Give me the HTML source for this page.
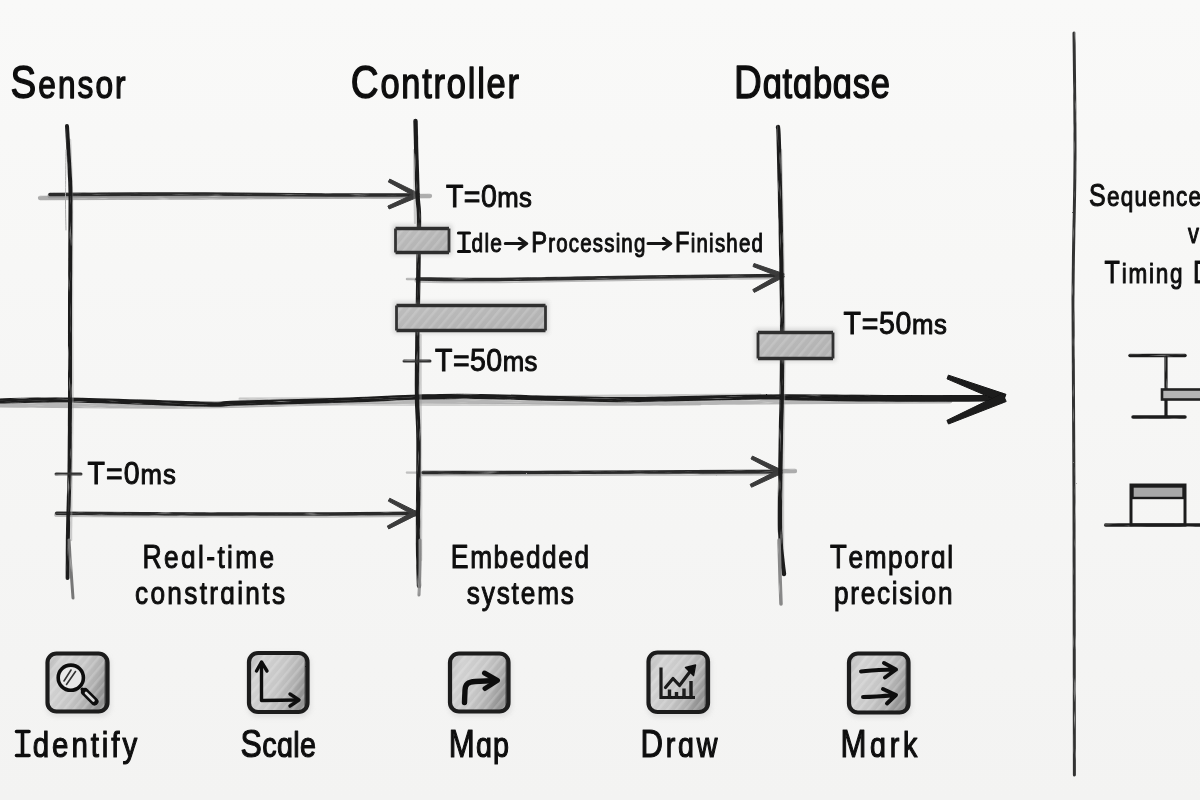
<!DOCTYPE html>
<html><head><meta charset="utf-8"><style>
html,body{margin:0;padding:0;background:#f6f6f5;}
svg{display:block;}
text{font-family:"Liberation Sans",sans-serif;}
</style></head><body>
<svg width="1200" height="800" viewBox="0 0 1200 800">
<defs>
<filter id="pen" filterUnits="userSpaceOnUse" x="0" y="0" width="1200" height="800">
<feTurbulence type="fractalNoise" baseFrequency="0.9" numOctaves="2" seed="3" result="n"/>
<feDisplacementMap in="SourceGraphic" in2="n" scale="1.3" xChannelSelector="R" yChannelSelector="G"/>
</filter>
<pattern id="hp" width="6" height="6" patternUnits="userSpaceOnUse" patternTransform="rotate(40)">
<rect width="6" height="6" fill="#bcbcbc"/><rect width="2" height="6" fill="#a9a9a9"/>
</pattern>
<linearGradient id="hatch" x1="0" y1="0" x2="1" y2="1"><stop offset="0" stop-color="#bdbdbd"/><stop offset="1" stop-color="#b0b0b0"/></linearGradient>
<linearGradient id="ig" x1="0" y1="0" x2="1" y2="0.4"><stop offset="0" stop-color="#b4b4b4"/><stop offset="0.25" stop-color="#d2d2d2"/><stop offset="0.6" stop-color="#c6c6c6"/><stop offset="0.85" stop-color="#afafaf"/><stop offset="1" stop-color="#939393"/></linearGradient>
<pattern id="hp2" width="7" height="7" patternUnits="userSpaceOnUse" patternTransform="rotate(40)">
<rect width="2.5" height="7" fill="#fff"/>
</pattern>
<filter id="soft" x="-20%" y="-20%" width="140%" height="140%"><feGaussianBlur stdDeviation="2"/></filter>
<filter id="gblur" filterUnits="userSpaceOnUse" x="0" y="0" width="1200" height="800"><feGaussianBlur stdDeviation="0.35"/></filter>
<linearGradient id="bg" x1="0" y1="0" x2="0" y2="1"><stop offset="0" stop-color="#f9f9f8"/><stop offset="1" stop-color="#f3f3f2"/></linearGradient>
<filter id="pen2h" filterUnits="userSpaceOnUse" x="0" y="0" width="1200" height="800">
<feTurbulence type="fractalNoise" baseFrequency="0.9" numOctaves="2" seed="3" result="n"/>
<feDisplacementMap in="SourceGraphic" in2="n" scale="1.3" xChannelSelector="R" yChannelSelector="G" result="d"/>
<feTurbulence type="fractalNoise" baseFrequency="0.04 0.7" numOctaves="2" seed="11" result="g"/>
<feColorMatrix in="g" type="matrix" values="0 0 0 0 0  0 0 0 0 0  0 0 0 0 0  0 0 0 1.8 0.25" result="m"/>
<feComposite in="d" in2="m" operator="in"/>
</filter>
<filter id="pen2v" filterUnits="userSpaceOnUse" x="0" y="0" width="1200" height="800">
<feTurbulence type="fractalNoise" baseFrequency="0.9" numOctaves="2" seed="4" result="n"/>
<feDisplacementMap in="SourceGraphic" in2="n" scale="1.3" xChannelSelector="R" yChannelSelector="G" result="d"/>
<feTurbulence type="fractalNoise" baseFrequency="0.7 0.04" numOctaves="2" seed="12" result="g"/>
<feColorMatrix in="g" type="matrix" values="0 0 0 0 0  0 0 0 0 0  0 0 0 0 0  0 0 0 1.8 0.25" result="m"/>
<feComposite in="d" in2="m" operator="in"/>
</filter>
<filter id="tblur" filterUnits="userSpaceOnUse" x="0" y="0" width="1200" height="800"><feGaussianBlur stdDeviation="0.3"/></filter>
<filter id="soft1" x="-5%" y="-5%" width="110%" height="110%"><feGaussianBlur stdDeviation="0.7"/></filter>
</defs>
<rect width="1200" height="800" fill="url(#bg)"/>
<g filter="url(#gblur)">
<path d="M40,198 C66.7,197.9 135.0,197.8 200,197.5 C265.0,197.2 391.7,196.2 430,196" fill="none" stroke="#9a9a9a" stroke-width="4.32" stroke-linecap="round" stroke-linejoin="round" opacity="0.8" filter="url(#pen2h)"/>
<path d="M50,195.7 C75.0,195.6 153.3,195.1 200,195.2 C246.7,195.3 293.8,196.0 330,196.2 C366.2,196.4 402.5,196.2 417,196.2" fill="none" stroke="#8a8a8a" stroke-width="5.1" stroke-linecap="round" stroke-linejoin="round" opacity="0.55" filter="url(#pen2h)"/>
<path d="M50,194.5 C75.0,194.4 153.3,193.9 200,194 C246.7,194.1 293.8,194.8 330,195 C366.2,195.2 402.5,195.0 417,195" fill="none" stroke="#2a2a2a" stroke-width="3.6" stroke-linecap="round" stroke-linejoin="round" opacity="1" filter="url(#pen2h)"/>
<path d="M388.2642332037417,181.92079105484365 L417.2743268442946,197.73216851282996 L419.3896563835373,193.64739423015442 L389.7357667962583,179.07920894515635 Z" fill="#3a3a3a" stroke="#3a3a3a" stroke-width="1" stroke-linejoin="round" opacity="1" filter="url(#pen)"/>
<path d="M389.1426583921361,208.96526113407032 L419.29750375188655,196.5038206375985 L417.44986087449524,192.29119487714632 L387.8573416078639,206.03473886592968 Z" fill="#3a3a3a" stroke="#3a3a3a" stroke-width="1" stroke-linejoin="round" opacity="1" filter="url(#pen)"/>
<path d="M407,279 L418,279" fill="none" stroke="#999" stroke-width="2.5" stroke-linecap="round" stroke-linejoin="round" opacity="0.7" filter="url(#pen2h)"/>
<path d="M417,280.2 C430.8,280.3 461.2,281.0 500,280.7 C538.8,280.4 603.0,278.9 650,278.2 C697.0,277.5 760.0,276.9 782,276.7" fill="none" stroke="#8a8a8a" stroke-width="5.1" stroke-linecap="round" stroke-linejoin="round" opacity="0.55" filter="url(#pen2h)"/>
<path d="M417,279 C430.8,279.1 461.2,279.8 500,279.5 C538.8,279.2 603.0,277.7 650,277 C697.0,276.3 760.0,275.8 782,275.5" fill="none" stroke="#2a2a2a" stroke-width="3.6" stroke-linecap="round" stroke-linejoin="round" opacity="1" filter="url(#pen2h)"/>
<path d="M752.9468714258762,266.5013489869074 L782.6123923499227,278.1767472069204 L784.2026370005286,273.8603688695617 L754.0531285741238,263.4986510130926 Z" fill="#3a3a3a" stroke="#3a3a3a" stroke-width="1" stroke-linejoin="round" opacity="1" filter="url(#pen)"/>
<path d="M754.264435115056,292.4055742438126 L784.4166013314673,276.8038550551156 L782.2188503756813,272.76282910415443 L752.735564884944,289.5944257561874 Z" fill="#3a3a3a" stroke="#3a3a3a" stroke-width="1" stroke-linejoin="round" opacity="1" filter="url(#pen)"/>
<path d="M407,472.5 L424,472.5" fill="none" stroke="#aaa" stroke-width="2.5" stroke-linecap="round" stroke-linejoin="round" opacity="0.7" filter="url(#pen2h)"/>
<path d="M700,472 C715.8,471.8 779.2,471.2 795,471" fill="none" stroke="#9a9a9a" stroke-width="4.32" stroke-linecap="round" stroke-linejoin="round" opacity="0.8" filter="url(#pen2h)"/>
<path d="M423,473.7 C435.8,473.7 462.2,473.8 500,473.7 C537.8,473.6 603.3,473.3 650,473.2 C696.7,473.1 758.3,472.9 780,472.9" fill="none" stroke="#8a8a8a" stroke-width="5.1" stroke-linecap="round" stroke-linejoin="round" opacity="0.55" filter="url(#pen2h)"/>
<path d="M423,472.5 C435.8,472.5 462.2,472.6 500,472.5 C537.8,472.4 603.3,472.1 650,472 C696.7,471.9 758.3,471.8 780,471.7" fill="none" stroke="#2a2a2a" stroke-width="3.6" stroke-linecap="round" stroke-linejoin="round" opacity="1" filter="url(#pen2h)"/>
<path d="M750.9824376585663,458.93007142694205 L780.3091960969471,474.4284423713234 L782.3721878285692,470.316987018865 L752.4175623414338,456.06992857305795 Z" fill="#3a3a3a" stroke="#3a3a3a" stroke-width="1" stroke-linejoin="round" opacity="1" filter="url(#pen)"/>
<path d="M751.4957364912811,487.2408159961285 L782.3508862025872,473.1189200338585 L780.3506437901538,468.97657404498915 L750.1042635087188,484.3591840038715 Z" fill="#3a3a3a" stroke="#3a3a3a" stroke-width="1" stroke-linejoin="round" opacity="1" filter="url(#pen)"/>
<path d="M56.7,514.5 C80.6,514.6 154.4,515.1 200,515.2 C245.6,515.3 294.2,515.3 330,515.2 C365.8,515.1 400.8,514.6 415,514.5" fill="none" stroke="#8a8a8a" stroke-width="5.1" stroke-linecap="round" stroke-linejoin="round" opacity="0.55" filter="url(#pen2h)"/>
<path d="M56.7,513.3 C80.6,513.4 154.4,513.9 200,514 C245.6,514.1 294.2,514.1 330,514 C365.8,513.9 400.8,513.4 415,513.3" fill="none" stroke="#2a2a2a" stroke-width="3.6" stroke-linecap="round" stroke-linejoin="round" opacity="1" filter="url(#pen2h)"/>
<path d="M388.25840395728,501.1177571404941 L415.26310300780324,516.0332721795103 L417.39519163062323,511.9572204005897 L389.74159604272,498.28224285950586 Z" fill="#3a3a3a" stroke="#3a3a3a" stroke-width="1" stroke-linejoin="round" opacity="1" filter="url(#pen)"/>
<path d="M388.7447619313536,528.9160966300385 L417.39818586698186,514.6374245950364 L415.2569953143403,510.5661467836756 L387.2552380686464,526.0839033699615 Z" fill="#3a3a3a" stroke="#3a3a3a" stroke-width="1" stroke-linejoin="round" opacity="1" filter="url(#pen)"/>
<path d="M0,405 C33.3,405.2 130.3,406.7 200,406 C269.7,405.3 348.0,401.5 418,401 C488.0,400.5 563.0,402.8 620,403 C677.0,403.2 705.0,402.3 760,402 C815.0,401.7 918.3,401.2 950,401" fill="none" stroke="#8a8a8a" stroke-width="5" stroke-linecap="round" stroke-linejoin="round" opacity="0.6" filter="url(#pen2h)"/>
<path d="M240,399 C266.7,398.9 336.7,399.0 400,398.5 C463.3,398.0 560.0,396.6 620,396 C680.0,395.4 736.7,395.2 760,395" fill="none" stroke="#999" stroke-width="3" stroke-linecap="round" stroke-linejoin="round" opacity="0.5" filter="url(#pen2h)"/>
<path d="M300,404 C333.3,404.1 433.3,404.5 500,404.5 C566.7,404.5 666.7,404.1 700,404" fill="none" stroke="#aaa" stroke-width="3" stroke-linecap="round" stroke-linejoin="round" opacity="0.5" filter="url(#pen2h)"/>
<path d="M0,401 C11.7,400.8 36.7,399.5 70,400 C103.3,400.5 171.7,403.5 200,404 C228.3,404.5 215.0,403.7 240,403 C265.0,402.3 320.3,401.0 350,400 C379.7,399.0 396.3,397.6 418,397 C439.7,396.4 446.3,396.1 480,396.5 C513.7,396.9 573.3,399.5 620,399.6 C666.7,399.7 713.3,397.4 760,397 C806.7,396.6 860.0,397.3 900,397.5 C940.0,397.7 983.3,397.9 1000,398" fill="none" stroke="#1a1a1a" stroke-width="5.2" stroke-linecap="round" stroke-linejoin="round" opacity="1" filter="url(#pen2h)"/>
<path d="M780,398 C860,396 940,394.5 1000,395 L1000,401.5 C940,402 860,402 780,400 Z" fill="#1a1a1a" filter="url(#pen)"/>
<path d="M946.9899781171829,378.8697242914186 L1002.8047439822253,402.7393960678047 L1005.9998424549026,394.3256367564211 L948.4100218828172,375.1302757085814 Z" fill="#1a1a1a" stroke="#1a1a1a" stroke-width="1" stroke-linejoin="round" opacity="1" filter="url(#pen)"/>
<path d="M948.5018114753474,424.0322386192855 L1006.1782547839957,401.5211782868819 L1002.5701031449325,393.27610450009706 L946.8981885246527,420.36776138071446 Z" fill="#1a1a1a" stroke="#1a1a1a" stroke-width="1" stroke-linejoin="round" opacity="1" filter="url(#pen)"/>
<path d="M70,140 C70.3,150.0 71.7,173.3 72,200 C72.3,226.7 71.9,266.7 72,300 C72.1,333.3 72.6,371.7 72.5,400 C72.4,428.3 71.8,446.7 71.5,470 C71.2,493.3 71.1,528.3 71,540" fill="none" stroke="#999" stroke-width="2.5" stroke-linecap="round" stroke-linejoin="round" opacity="0.45" filter="url(#pen2v)"/>
<path d="M67,126 C67.4,133.3 68.9,157.7 69.5,170 C70.1,182.3 70.4,178.3 70.5,200 C70.6,221.7 70.1,266.7 70,300 C69.9,333.3 70.1,371.7 70,400 C69.9,428.3 69.8,448.3 69.5,470 C69.2,491.7 68.3,512.0 68,530 C67.7,548.0 67.6,570.0 67.5,578" fill="none" stroke="#1e1e1e" stroke-width="4.0" stroke-linecap="round" stroke-linejoin="round" opacity="1" filter="url(#pen2v)"/>
<path d="M69,540 C69.3,545.0 70.3,560.3 71,570 C71.7,579.7 72.7,593.3 73,598" fill="none" stroke="#777" stroke-width="3" stroke-linecap="round" stroke-linejoin="round" opacity="1" filter="url(#pen2v)"/>
<path d="M66,150 C65.9,158.3 65.5,186.7 65.5,200 C65.5,213.3 65.9,225.0 66,230" fill="none" stroke="#aaa" stroke-width="1" stroke-linecap="round" stroke-linejoin="round" opacity="1" filter="url(#pen2v)"/>
<path d="M414,150 C414.2,162.2 414.8,210.8 415,223" fill="none" stroke="#999" stroke-width="2.2" stroke-linecap="round" stroke-linejoin="round" opacity="0.45" filter="url(#pen2v)"/>
<path d="M420.5,335 C420.5,345.3 420.4,372.8 420.5,397 C420.6,421.2 420.9,452.8 421,480 C421.1,507.2 421.0,546.7 421,560" fill="none" stroke="#999" stroke-width="2.5" stroke-linecap="round" stroke-linejoin="round" opacity="0.45" filter="url(#pen2v)"/>
<path d="M415.5,121 C415.8,133.2 416.9,177.0 417.5,194 C418.1,211.0 419.0,200.3 419,223 C419.0,245.7 417.8,301.0 417.5,330 C417.2,359.0 416.8,378.7 417,397 C417.2,415.3 418.3,416.2 418.5,440 C418.7,463.8 417.9,515.7 418,540 C418.1,564.3 418.8,578.3 419,586" fill="none" stroke="#1e1e1e" stroke-width="4.4" stroke-linecap="round" stroke-linejoin="round" opacity="1" filter="url(#pen2v)"/>
<path d="M420,540 C420.0,545.0 420.2,560.8 420,570 C419.8,579.2 419.2,590.8 419,595" fill="none" stroke="#888" stroke-width="3" stroke-linecap="round" stroke-linejoin="round" opacity="1" filter="url(#pen2v)"/>
<path d="M781,150 C781.5,175.0 783.5,258.8 784,300 C784.5,341.2 784.2,367.0 784,397 C783.8,427.0 783.2,452.8 783,480 C782.8,507.2 783.0,546.7 783,560" fill="none" stroke="#999" stroke-width="2.5" stroke-linecap="round" stroke-linejoin="round" opacity="0.45" filter="url(#pen2v)"/>
<path d="M778,127 C778.2,130.8 778.3,121.2 779,150 C779.7,178.8 781.5,258.8 782,300 C782.5,341.2 781.9,375.3 781.7,397 C781.5,418.7 781.3,407.8 781,430 C780.7,452.2 779.5,506.0 780,530 C780.5,554.0 783.3,566.7 784,574" fill="none" stroke="#1e1e1e" stroke-width="4.4" stroke-linecap="round" stroke-linejoin="round" opacity="1" filter="url(#pen2v)"/>
<path d="M779,540 C779.2,545.8 779.7,564.3 780,575 C780.3,585.7 780.8,599.2 781,604" fill="none" stroke="#888" stroke-width="3.5" stroke-linecap="round" stroke-linejoin="round" opacity="1" filter="url(#pen2v)"/>
<path d="M1074,33 C1074.2,54.2 1075.2,115.5 1075,160 C1074.8,204.5 1073.2,243.3 1073,300 C1072.8,356.7 1073.8,420.8 1074,500 C1074.2,579.2 1074.3,729.2 1074.4,775" fill="none" stroke="#333" stroke-width="3" stroke-linecap="round" stroke-linejoin="round" opacity="1" filter="url(#pen2v)"/>
<path d="M404,361 L430,361" fill="none" stroke="#333" stroke-width="3" stroke-linecap="round" stroke-linejoin="round" opacity="1" filter="url(#pen2h)"/>
<path d="M56,474 L81,474" fill="none" stroke="#333" stroke-width="3" stroke-linecap="round" stroke-linejoin="round" opacity="1" filter="url(#pen2h)"/>
<rect x="394.5" y="226.5" width="55.5" height="27.0" fill="none" stroke="#999" stroke-width="3" opacity="0.45" filter="url(#soft)"/>
<rect x="395.5" y="228.5" width="53.5" height="24.0" fill="url(#hatch)"/>
<rect x="395.5" y="228.5" width="53.5" height="24.0" fill="url(#hp2)" opacity="0.15" filter="url(#soft1)"/>
<path d="M395.5,228.5 L449,228.5 M395.5,252.5 L449,252.5" stroke="#2e2e2e" stroke-width="3.4" filter="url(#pen)"/>
<path d="M395.5,228.5 L395.5,252.5 M449,228.5 L449,252.5" stroke="#333" stroke-width="2.8" filter="url(#pen)"/>
<rect x="395.5" y="303.5" width="151.0" height="28.0" fill="none" stroke="#999" stroke-width="3" opacity="0.45" filter="url(#soft)"/>
<rect x="396.5" y="305.5" width="149.0" height="25.0" fill="url(#hatch)"/>
<rect x="396.5" y="305.5" width="149.0" height="25.0" fill="url(#hp2)" opacity="0.15" filter="url(#soft1)"/>
<path d="M396.5,305.5 L545.5,305.5 M396.5,330.5 L545.5,330.5" stroke="#2e2e2e" stroke-width="3.4" filter="url(#pen)"/>
<path d="M396.5,305.5 L396.5,330.5 M545.5,305.5 L545.5,330.5" stroke="#333" stroke-width="2.8" filter="url(#pen)"/>
<rect x="757" y="330.5" width="77" height="29.0" fill="none" stroke="#999" stroke-width="3" opacity="0.45" filter="url(#soft)"/>
<rect x="758" y="332.5" width="75" height="26.0" fill="url(#hatch)"/>
<rect x="758" y="332.5" width="75" height="26.0" fill="url(#hp2)" opacity="0.15" filter="url(#soft1)"/>
<path d="M758,332.5 L833,332.5 M758,358.5 L833,358.5" stroke="#2e2e2e" stroke-width="3.4" filter="url(#pen)"/>
<path d="M758,332.5 L758,358.5 M833,332.5 L833,358.5" stroke="#333" stroke-width="2.8" filter="url(#pen)"/>
<path d="M458.5,233 L469.5,233 M464,233 L464,251.5 M458.5,251.5 L469.5,251.5" stroke="#111" stroke-width="3.2" stroke-linecap="round" fill="none"/>
<path d="M505.3,243.6 L526.7,243.6 M519.3000000000001,238.3 L526.7,243.6 L519.3000000000001,249" stroke="#151515" stroke-width="3" fill="none" stroke-linecap="round" stroke-linejoin="round"/>
<path d="M648,243.6 L670.8,243.6 M663.4,238.3 L670.8,243.6 L663.4,249" stroke="#151515" stroke-width="3" fill="none" stroke-linecap="round" stroke-linejoin="round"/>
<path d="M16.5,731.5 L29,731.5 M22.5,731.5 L22.5,755.5 M16.5,755.5 L29,755.5" stroke="#111" stroke-width="3.6" stroke-linecap="round" fill="none"/>
<rect x="46" y="654" width="65" height="63" rx="10" fill="#cfcfcf" opacity="0.5" filter="url(#soft)"/>
<rect x="47.5" y="653.5" width="60" height="58" rx="9" fill="url(#ig)"/>
<rect x="47.5" y="653.5" width="60" height="58" rx="9" fill="url(#hp2)" opacity="0.18" filter="url(#soft1)"/>
<path d="M106,659 L105.5,706" stroke="#555" stroke-width="3" opacity="0.7" filter="url(#pen)"/>
<rect x="47.5" y="653.5" width="60" height="58" rx="9" fill="none" stroke="#1c1c1c" stroke-width="4.2" filter="url(#pen)"/>
<rect x="247.5" y="653.5" width="63.5" height="64.0" rx="10" fill="#cfcfcf" opacity="0.5" filter="url(#soft)"/>
<rect x="249.0" y="653.0" width="58.5" height="59.0" rx="9" fill="url(#ig)"/>
<rect x="249.0" y="653.0" width="58.5" height="59.0" rx="9" fill="url(#hp2)" opacity="0.18" filter="url(#soft1)"/>
<path d="M306,658.5 L305.5,706.5" stroke="#555" stroke-width="3" opacity="0.7" filter="url(#pen)"/>
<rect x="249.0" y="653.0" width="58.5" height="59.0" rx="9" fill="none" stroke="#1c1c1c" stroke-width="4.2" filter="url(#pen)"/>
<rect x="448.5" y="654" width="63.5" height="63" rx="10" fill="#cfcfcf" opacity="0.5" filter="url(#soft)"/>
<rect x="450.0" y="653.5" width="58.5" height="58" rx="9" fill="url(#ig)"/>
<rect x="450.0" y="653.5" width="58.5" height="58" rx="9" fill="url(#hp2)" opacity="0.18" filter="url(#soft1)"/>
<path d="M507,659 L506.5,706" stroke="#555" stroke-width="3" opacity="0.7" filter="url(#pen)"/>
<rect x="450.0" y="653.5" width="58.5" height="58" rx="9" fill="none" stroke="#1c1c1c" stroke-width="4.2" filter="url(#pen)"/>
<rect x="647" y="653" width="64.5" height="64.5" rx="10" fill="#cfcfcf" opacity="0.5" filter="url(#soft)"/>
<rect x="648.5" y="652.5" width="59.5" height="59.5" rx="9" fill="url(#ig)"/>
<rect x="648.5" y="652.5" width="59.5" height="59.5" rx="9" fill="url(#hp2)" opacity="0.18" filter="url(#soft1)"/>
<path d="M706.5,658 L706.0,706.5" stroke="#555" stroke-width="3" opacity="0.7" filter="url(#pen)"/>
<rect x="648.5" y="652.5" width="59.5" height="59.5" rx="9" fill="none" stroke="#1c1c1c" stroke-width="4.2" filter="url(#pen)"/>
<rect x="847.5" y="654" width="64.5" height="64" rx="10" fill="#cfcfcf" opacity="0.5" filter="url(#soft)"/>
<rect x="849.0" y="653.5" width="59.5" height="59" rx="9" fill="url(#ig)"/>
<rect x="849.0" y="653.5" width="59.5" height="59" rx="9" fill="url(#hp2)" opacity="0.18" filter="url(#soft1)"/>
<path d="M907,659 L906.5,707" stroke="#555" stroke-width="3" opacity="0.7" filter="url(#pen)"/>
<rect x="849.0" y="653.5" width="59.5" height="59" rx="9" fill="none" stroke="#1c1c1c" stroke-width="4.2" filter="url(#pen)"/>
<circle cx="70.8" cy="677.7" r="12.6" fill="#e8e8e8" stroke="#111" stroke-width="3.6"/>
<path d="M64,681 L71,670 M66.5,684.5 L75.5,671.5" stroke="#333" stroke-width="1.6" fill="none" stroke-linecap="round"/>
<path d="M82.5,689.5 L84.5,691.5" stroke="#111" stroke-width="4" stroke-linecap="round"/>
<path d="M85,692 L94.5,701.5" stroke="#111" stroke-width="8" stroke-linecap="round"/>
<path d="M86,693 L93.5,700.5" stroke="#d8d8d8" stroke-width="2.6" stroke-linecap="round"/>
<path d="M261.5,663 L261.5,700.5 L299,700" stroke="#111" stroke-width="3.4" fill="none" stroke-linejoin="round"/>
<path d="M256.5,671 L261.5,662 L267,671 M290,694 L299,700 L290,706" stroke="#111" stroke-width="3.4" fill="none" stroke-linecap="round" stroke-linejoin="round"/>
<path d="M464.5,702.5 L465,690 C465.2,684.5 468,681.8 475,681.5 L496,680.5" stroke="#111" stroke-width="5.4" fill="none" stroke-linecap="round" stroke-linejoin="round"/>
<path d="M484.5,673 L497.5,680.5 L485,688.5" stroke="#111" stroke-width="5" fill="none" stroke-linecap="round" stroke-linejoin="round"/>
<path d="M661,667.5 L661,697.5 L695,697.5" stroke="#1a1a1a" stroke-width="3.2" fill="none"/>
<path d="M669.5,698 L669.5,689.5 M676.5,698 L676.5,692 M684,698 L684,688.5 M691,698 L691,681" stroke="#1a1a1a" stroke-width="3.4"/>
<path d="M665.5,687.5 L673,678.5 L679.5,685.5 L692,669" stroke="#1a1a1a" stroke-width="3.2" fill="none" stroke-linejoin="round" stroke-linecap="round"/>
<path d="M685.5,667.5 L695.5,665 L693.5,675.5 Z" fill="#111" stroke="#111" stroke-width="1.5" stroke-linejoin="round"/>
<path d="M861,671.5 C872,670 884,670 896,669.5 M884,663 L896,669.5 L885,677.5" stroke="#111" stroke-width="4" fill="none" stroke-linecap="round" stroke-linejoin="round"/>
<path d="M863,697 C874,697 885,696 896,695 M883,689 L896,695 L887,703.5" stroke="#111" stroke-width="4" fill="none" stroke-linecap="round" stroke-linejoin="round"/>
<path d="M1130,355.6 L1185,355.6" fill="none" stroke="#1e1e1e" stroke-width="3.5" stroke-linecap="round" stroke-linejoin="round" opacity="1" filter="url(#pen2h)"/>
<path d="M1166,357 L1166,416" fill="none" stroke="#1e1e1e" stroke-width="3.2" stroke-linecap="round" stroke-linejoin="round" opacity="1" filter="url(#pen2v)"/>
<path d="M1133,417 L1185,417" fill="none" stroke="#1e1e1e" stroke-width="3.5" stroke-linecap="round" stroke-linejoin="round" opacity="1" filter="url(#pen2h)"/>
<rect x="1162" y="389.5" width="50" height="10" fill="#b5b5b5" stroke="#222" stroke-width="2.6" filter="url(#pen)"/>
<path d="M1105.6,525 L1205,525" fill="none" stroke="#1e1e1e" stroke-width="3.5" stroke-linecap="round" stroke-linejoin="round" opacity="1" filter="url(#pen2h)"/>
<rect x="1131" y="485" width="54" height="40" fill="none" stroke="#1e1e1e" stroke-width="3" filter="url(#pen)"/>
<rect x="1132.5" y="486.5" width="51" height="11.5" fill="#a8a8a8" stroke="#1e1e1e" stroke-width="2.4"/>
</g>
<g filter="url(#tblur)">
<text transform="translate(10.60,98.00) scale(0.8200,1)" fill="#111" stroke="#111" stroke-width="1.4" stroke-linejoin="round" ><tspan x="0.00" font-size="47">S</tspan><tspan x="33.87" font-size="38.5">e</tspan><tspan x="57.80" font-size="38.5">n</tspan><tspan x="81.74" font-size="38.5">s</tspan><tspan x="103.51" font-size="38.5">o</tspan><tspan x="127.44" font-size="38.5">r</tspan></text>
<text transform="translate(350.80,97.50) scale(0.8200,1)" fill="#111" stroke="#111" stroke-width="1.4" stroke-linejoin="round" ><tspan x="0.00" font-size="47">C</tspan><tspan x="36.10" font-size="42">o</tspan><tspan x="61.62" font-size="42">n</tspan><tspan x="87.13" font-size="42">t</tspan><tspan x="100.96" font-size="42">r</tspan><tspan x="117.11" font-size="42">o</tspan><tspan x="142.62" font-size="42">l</tspan><tspan x="154.11" font-size="42">l</tspan><tspan x="165.61" font-size="42">e</tspan><tspan x="191.12" font-size="42">r</tspan></text>
<text transform="translate(734.00,97.50) scale(0.8200,1)" fill="#111" stroke="#111" stroke-width="1.4" stroke-linejoin="round" ><tspan x="0.00" font-size="47">D</tspan><tspan x="34.91" font-size="42">ɑ</tspan><tspan x="59.24" font-size="42">t</tspan><tspan x="71.88" font-size="42">ɑ</tspan><tspan x="96.21" font-size="42">b</tspan><tspan x="120.54" font-size="42">ɑ</tspan><tspan x="144.87" font-size="42">s</tspan><tspan x="166.84" font-size="42">e</tspan></text>
<text transform="translate(446.00,206.60) scale(0.9200,1)" fill="#111" stroke="#111" stroke-width="1.0" stroke-linejoin="round" ><tspan x="0.00" font-size="31">T</tspan><tspan x="19.40" font-size="31">=</tspan><tspan x="37.98" font-size="31">0</tspan><tspan x="55.68" font-size="28">m</tspan><tspan x="79.48" font-size="28">s</tspan></text>
<text transform="translate(471.50,252.30) scale(0.8200,1)" fill="#111" stroke="#111" stroke-width="1.0" stroke-linejoin="round" ><tspan x="0.00" font-size="25.5">d</tspan><tspan x="15.76" font-size="25.5">l</tspan><tspan x="23.00" font-size="25.5">e</tspan></text>
<text transform="translate(531.30,252.30) scale(0.8200,1)" fill="#111" stroke="#111" stroke-width="1.0" stroke-linejoin="round" ><tspan x="0.00" font-size="29">P</tspan><tspan x="20.75" font-size="25">r</tspan><tspan x="30.49" font-size="25">o</tspan><tspan x="45.80" font-size="25">c</tspan><tspan x="59.71" font-size="25">e</tspan><tspan x="75.03" font-size="25">s</tspan><tspan x="88.94" font-size="25">s</tspan><tspan x="102.85" font-size="25">i</tspan><tspan x="109.81" font-size="25">n</tspan><tspan x="125.12" font-size="25">ɡ</tspan></text>
<text transform="translate(675.00,252.30) scale(0.8200,1)" fill="#111" stroke="#111" stroke-width="1.0" stroke-linejoin="round" ><tspan x="0.00" font-size="29">F</tspan><tspan x="19.20" font-size="25">i</tspan><tspan x="26.24" font-size="25">n</tspan><tspan x="41.62" font-size="25">i</tspan><tspan x="48.66" font-size="25">s</tspan><tspan x="62.64" font-size="25">h</tspan><tspan x="78.03" font-size="25">e</tspan><tspan x="93.42" font-size="25">d</tspan></text>
<text transform="translate(435.00,371.00) scale(0.9200,1)" fill="#111" stroke="#111" stroke-width="1.0" stroke-linejoin="round" ><tspan x="0.00" font-size="31">T</tspan><tspan x="19.45" font-size="31">=</tspan><tspan x="38.07" font-size="31">5</tspan><tspan x="55.82" font-size="31">0</tspan><tspan x="73.57" font-size="28">m</tspan><tspan x="97.41" font-size="28">s</tspan></text>
<text transform="translate(843.60,334.00) scale(0.9200,1)" fill="#111" stroke="#111" stroke-width="1.0" stroke-linejoin="round" ><tspan x="0.00" font-size="31">T</tspan><tspan x="19.65" font-size="31">=</tspan><tspan x="38.46" font-size="31">5</tspan><tspan x="56.41" font-size="31">0</tspan><tspan x="74.36" font-size="28">m</tspan><tspan x="98.39" font-size="28">s</tspan></text>
<text transform="translate(87.50,483.70) scale(0.9200,1)" fill="#111" stroke="#111" stroke-width="1.0" stroke-linejoin="round" ><tspan x="0.00" font-size="31">T</tspan><tspan x="20.08" font-size="31">=</tspan><tspan x="39.33" font-size="31">0</tspan><tspan x="57.72" font-size="28">m</tspan><tspan x="82.20" font-size="28">s</tspan></text>
<text transform="translate(142.50,568.30) scale(0.8200,1)" fill="#111" stroke="#111" stroke-width="1.0" stroke-linejoin="round" ><tspan x="0.00" font-size="32.5">R</tspan><tspan x="26.33" font-size="32">e</tspan><tspan x="47.00" font-size="32">ɑ</tspan><tspan x="67.66" font-size="32">l</tspan><tspan x="77.63" font-size="32.5">-</tspan><tspan x="91.32" font-size="32">t</tspan><tspan x="103.07" font-size="32">i</tspan><tspan x="113.05" font-size="32">m</tspan><tspan x="142.57" font-size="32">e</tspan></text>
<text transform="translate(135.00,603.50) scale(0.8200,1)" fill="#111" stroke="#111" stroke-width="1.0" stroke-linejoin="round" ><tspan x="0.00" font-size="32">c</tspan><tspan x="18.82" font-size="32">o</tspan><tspan x="39.44" font-size="32">n</tspan><tspan x="60.05" font-size="32">s</tspan><tspan x="78.87" font-size="32">t</tspan><tspan x="90.58" font-size="32">r</tspan><tspan x="104.06" font-size="32">ɑ</tspan><tspan x="124.67" font-size="32">i</tspan><tspan x="134.60" font-size="32">n</tspan><tspan x="155.22" font-size="32">t</tspan><tspan x="166.93" font-size="32">s</tspan></text>
<text transform="translate(450.80,568.30) scale(0.8200,1)" fill="#111" stroke="#111" stroke-width="1.0" stroke-linejoin="round" ><tspan x="0.00" font-size="32.5">E</tspan><tspan x="23.59" font-size="32">m</tspan><tspan x="52.17" font-size="32">b</tspan><tspan x="71.88" font-size="32">e</tspan><tspan x="91.59" font-size="32">d</tspan><tspan x="111.31" font-size="32">d</tspan><tspan x="131.02" font-size="32">e</tspan><tspan x="150.74" font-size="32">d</tspan></text>
<text transform="translate(466.70,603.50) scale(0.8200,1)" fill="#111" stroke="#111" stroke-width="1.0" stroke-linejoin="round" ><tspan x="0.00" font-size="32">s</tspan><tspan x="18.25" font-size="32">y</tspan><tspan x="36.50" font-size="32">s</tspan><tspan x="54.75" font-size="32">t</tspan><tspan x="65.90" font-size="32">e</tspan><tspan x="85.95" font-size="32">m</tspan><tspan x="114.85" font-size="32">s</tspan></text>
<text transform="translate(830.00,568.00) scale(0.8200,1)" fill="#111" stroke="#111" stroke-width="1.0" stroke-linejoin="round" ><tspan x="0.00" font-size="33.5">T</tspan><tspan x="22.45" font-size="32">e</tspan><tspan x="42.24" font-size="32">m</tspan><tspan x="70.89" font-size="32">p</tspan><tspan x="90.68" font-size="32">o</tspan><tspan x="110.46" font-size="32">r</tspan><tspan x="123.11" font-size="32">ɑ</tspan><tspan x="142.90" font-size="32">l</tspan></text>
<text transform="translate(834.00,603.50) scale(0.8200,1)" fill="#111" stroke="#111" stroke-width="1.0" stroke-linejoin="round" ><tspan x="0.00" font-size="32">p</tspan><tspan x="19.85" font-size="32">r</tspan><tspan x="32.56" font-size="32">e</tspan><tspan x="52.42" font-size="32">c</tspan><tspan x="70.47" font-size="32">i</tspan><tspan x="79.64" font-size="32">s</tspan><tspan x="97.69" font-size="32">i</tspan><tspan x="106.86" font-size="32">o</tspan><tspan x="126.71" font-size="32">n</tspan></text>
<text transform="translate(32.80,756.80) scale(0.8200,1)" fill="#111" stroke="#111" stroke-width="1.2" stroke-linejoin="round" ><tspan x="0.00" font-size="36">d</tspan><tspan x="23.56" font-size="36">e</tspan><tspan x="47.13" font-size="36">n</tspan><tspan x="70.69" font-size="36">t</tspan><tspan x="84.23" font-size="36">i</tspan><tspan x="95.77" font-size="36">f</tspan><tspan x="109.32" font-size="36">y</tspan></text>
<text transform="translate(240.60,757.00) scale(0.8200,1)" fill="#111" stroke="#111" stroke-width="1.2" stroke-linejoin="round" ><tspan x="0.00" font-size="39">S</tspan><tspan x="26.44" font-size="35">c</tspan><tspan x="44.36" font-size="35">ɑ</tspan><tspan x="64.25" font-size="35">l</tspan><tspan x="72.45" font-size="35">e</tspan></text>
<text transform="translate(448.80,756.70) scale(0.8200,1)" fill="#111" stroke="#111" stroke-width="1.2" stroke-linejoin="round" ><tspan x="0.00" font-size="38">M</tspan><tspan x="33.05" font-size="35">ɑ</tspan><tspan x="53.91" font-size="35">p</tspan></text>
<text transform="translate(640.40,756.70) scale(0.8200,1)" fill="#111" stroke="#111" stroke-width="1.2" stroke-linejoin="round" ><tspan x="0.00" font-size="38">D</tspan><tspan x="30.80" font-size="35">r</tspan><tspan x="45.80" font-size="35">ɑ</tspan><tspan x="68.62" font-size="35">w</tspan></text>
<text transform="translate(840.40,756.70) scale(0.8200,1)" fill="#111" stroke="#111" stroke-width="1.2" stroke-linejoin="round" ><tspan x="0.00" font-size="38">M</tspan><tspan x="36.20" font-size="35">ɑ</tspan><tspan x="60.22" font-size="35">r</tspan><tspan x="76.42" font-size="35">k</tspan></text>
<text transform="translate(1089.00,205.50) scale(0.8200,1)" fill="#111" stroke="#111" stroke-width="1.0" stroke-linejoin="round" ><tspan x="0.00" font-size="30.5">S</tspan><tspan x="21.88" font-size="27.5">e</tspan><tspan x="38.70" font-size="27.5">q</tspan><tspan x="55.53" font-size="27.5">u</tspan><tspan x="72.35" font-size="27.5">e</tspan><tspan x="89.18" font-size="27.5">n</tspan><tspan x="106.00" font-size="27.5">c</tspan><tspan x="121.29" font-size="27.5">e</tspan><tspan x="148.12" font-size="30.5">D</tspan><tspan x="171.67" font-size="27.5">i</tspan><tspan x="179.32" font-size="27.5">ɑ</tspan><tspan x="196.14" font-size="27.5">ɡ</tspan><tspan x="212.97" font-size="27.5">r</tspan><tspan x="223.66" font-size="27.5">ɑ</tspan><tspan x="240.48" font-size="27.5">m</tspan><tspan x="264.92" font-size="27.5">s</tspan></text>
<text transform="translate(1188.00,243.00) scale(0.7971,1)" fill="#111" stroke="#111" stroke-width="1.0" stroke-linejoin="round" ><tspan x="0.00" font-size="27.5">v</tspan></text>
<text transform="translate(1104.60,282.60) scale(0.8200,1)" fill="#111" stroke="#111" stroke-width="1.0" stroke-linejoin="round" ><tspan x="0.00" font-size="30.5">T</tspan><tspan x="20.79" font-size="27.5">i</tspan><tspan x="29.05" font-size="27.5">m</tspan><tspan x="54.11" font-size="27.5">i</tspan><tspan x="62.37" font-size="27.5">n</tspan><tspan x="79.82" font-size="27.5">ɡ</tspan><tspan x="107.90" font-size="30.5">D</tspan><tspan x="132.08" font-size="27.5">i</tspan><tspan x="140.34" font-size="27.5">ɑ</tspan><tspan x="157.79" font-size="27.5">ɡ</tspan><tspan x="175.24" font-size="27.5">r</tspan><tspan x="186.55" font-size="27.5">ɑ</tspan><tspan x="204.00" font-size="27.5">m</tspan><tspan x="229.06" font-size="27.5">s</tspan></text>
</g>
</svg>
</body></html>
